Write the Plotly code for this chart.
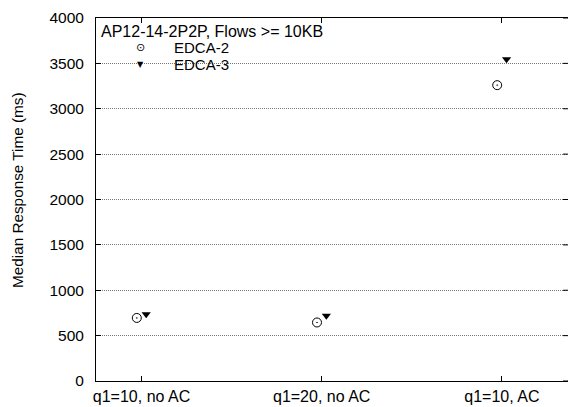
import plotly.graph_objects as go

categories = ["q1=10, no AC", "q1=20, no AC", "q1=10, AC"]
series_names = ["EDCA-2", "EDCA-3"]
edca2 = [695, 645, 3260]
edca3 = [735, 720, 3545]
y_ticks = [0, 500, 1000, 1500, 2000, 2500, 3000, 3500, 4000]
legend_title = "AP12-14-2P2P, Flows >= 10KB"
y_title = "Median Response Time (ms)"

FONT = "Liberation Sans, Arial, sans-serif"
W, H = 568, 407
ML, MR, MT, MB = 96, 0, 18, 26
PW = W - ML - MR
PH = H - MT - MB

fig = go.Figure()
fig.add_trace(go.Scatter(
    x=categories, y=edca2, name=series_names[0], mode="markers",
    offsetgroup="a",
    marker=dict(symbol="circle-open-dot", size=9, color="black",
                line=dict(width=1, color="black")),
    showlegend=False))
fig.add_trace(go.Scatter(
    x=categories, y=edca3, name=series_names[1], mode="markers",
    offsetgroup="b",
    marker=dict(symbol="triangle-down", size=8, color="black",
                line=dict(width=0)),
    showlegend=False))

# right-side mirrored tick marks (no right frame line in the reference)
for v in y_ticks:
    fig.add_shape(type="line", xref="paper", yref="y",
                  x0=1 - 5 / PW, x1=1, y0=v, y1=v,
                  line=dict(color="black", width=1))

# legend drawn as text
fig.add_annotation(text=legend_title, xref="paper", yref="paper",
                   x=3 / PW, y=1 - 13.5 / PH, xanchor="left", yanchor="middle",
                   showarrow=False, font=dict(size=16, family=FONT, color="black"))
symbols = ["\u2299", "\u25BC"]
for i, (nm, sym) in enumerate(zip(series_names, symbols)):
    yy = 1 - (30 + 16.5 * i) / PH
    fig.add_annotation(text=sym, xref="paper", yref="paper",
                       x=44 / PW, y=yy, xanchor="center", yanchor="middle",
                       showarrow=False,
                       font=dict(size=11 if i == 0 else 8, family="DejaVu Sans", color="black"))
    fig.add_annotation(text=nm, xref="paper", yref="paper",
                       x=75.5 / PW, y=yy, xanchor="left", yanchor="middle",
                       showarrow=False, font=dict(size=15, family=FONT, color="black"))

fig.add_annotation(text=y_title, xref="paper", yref="paper",
                   x=-(ML - 17) / PW, y=(381 - 190) / PH, xanchor="center", yanchor="middle",
                   textangle=-90, showarrow=False,
                   font=dict(size=15.3, family=FONT, color="black"))

fig.update_layout(
    width=W, height=H,
    margin=dict(l=ML, r=MR, t=MT, b=MB, pad=0),
    plot_bgcolor="white", paper_bgcolor="white",
    scattermode="group", scattergap=0.896,
    font=dict(family=FONT, size=15, color="black"),
    xaxis=dict(type="category", range=[-0.2525, 2.367],
               showgrid=False, zeroline=False,
               showline=True, linecolor="black", linewidth=1, mirror="ticks",
               ticks="inside", ticklen=5, tickcolor="black", tickwidth=1,
               ticklabelstandoff=1,
               tickfont=dict(size=16, family=FONT, color="black")),
    yaxis=dict(range=[0, 4000], tickvals=y_ticks,
               showgrid=True, gridcolor="#777777", griddash="1px,1px", gridwidth=1,
               zeroline=False,
               showline=True, linecolor="black", linewidth=1, mirror=False,
               ticks="inside", ticklen=5, tickcolor="black", tickwidth=1,
               ticklabelstandoff=8,
               tickfont=dict(size=15.5, family=FONT, color="black")),
)

fig.write_html("out.html")
